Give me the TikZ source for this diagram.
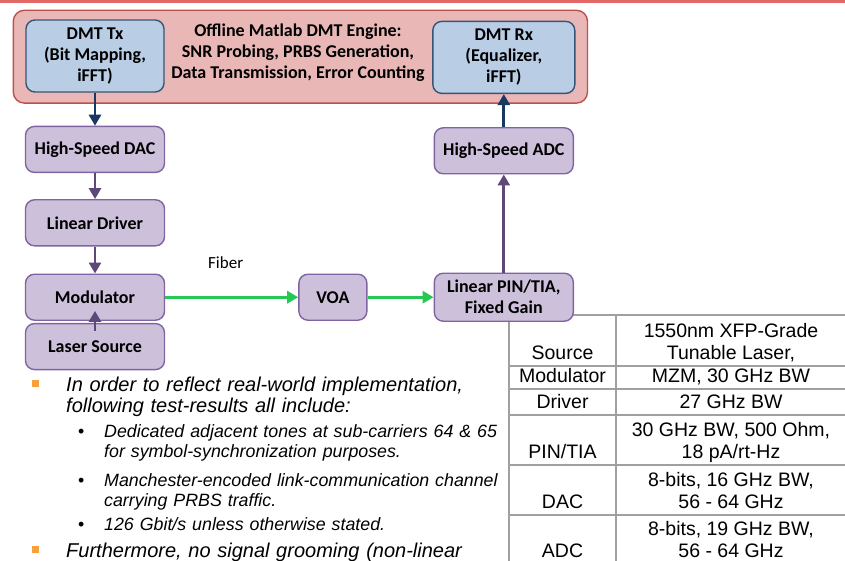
\documentclass[tikz,border=0pt]{standalone}
\usepackage{fontspec}
\setmainfont{Carlito}
\newfontfamily\arialf{Liberation Sans}
\usepackage{xcolor}
\usepackage{tikz}
\usetikzlibrary{arrows.meta,positioning,fit,backgrounds}
\definecolor{engfill}{RGB}{232,183,182}
\definecolor{engline}{RGB}{190,80,77}
\definecolor{dmtfill}{RGB}{185,205,229}
\definecolor{dmtline}{RGB}{56,84,120}
\definecolor{blkfill}{RGB}{205,192,219}
\definecolor{blkline}{RGB}{128,100,162}
\definecolor{navy}{RGB}{26,56,96}
\definecolor{plum}{RGB}{94,72,122}
\definecolor{fibre}{RGB}{36,200,82}
\definecolor{bulletor}{RGB}{247,160,60}
\definecolor{topline}{RGB}{226,104,104}
\definecolor{grid}{RGB}{160,160,160}

\begin{document}
\begin{tikzpicture}[x=1pt,y=1pt,
  font=\fontsize{18}{21}\selectfont\bfseries,
  pb/.style={draw=blkline,line width=1.4pt,rounded corners=9pt,fill=blkfill,minimum width=139pt,minimum height=46pt,align=center,inner sep=2pt},
  bb/.style={draw=dmtline,line width=1.4pt,rounded corners=9pt,fill=dmtfill,minimum width=138pt,minimum height=72pt,align=center,inner sep=2pt},
  na/.style={-{Triangle[width=12pt,length=11pt]},line width=2.8pt,color=navy},
  pa/.style={-{Triangle[width=12pt,length=11pt]},line width=2.8pt,color=plum},
  ga/.style={-{Triangle[width=12pt,length=11pt]},line width=3pt,color=fibre},
  cell/.style={font=\arialf\fontsize{19.5}{22}\selectfont,align=center,anchor=south,inner sep=0pt},
  txt/.style={font=\arialf\itshape\fontsize{20}{21.5}\selectfont,anchor=base west,inner sep=0pt,align=left},
  sub/.style={font=\arialf\itshape\fontsize{17.8}{20.5}\selectfont,anchor=base west,inner sep=0pt,align=left}]
  \useasboundingbox (0,0) rectangle (845,-561);
  \draw[topline,line width=2.5pt] (0,-1.5) -- (845,-1.5);

  \foreach \yy in {315,366,389,415,465,515}
    \draw[grid,line width=1.2pt] (509,-\yy) -- (845,-\yy);
  \draw[grid,line width=1.2pt] (509,-315) -- (509,-561);
  \draw[grid,line width=1.2pt] (616,-315) -- (616,-561);
  \foreach \lab/\val/\yy [count=\i] in {{Source}/{1550nm XFP-Grade\\Tunable Laser,}/366,
      {Modulator}/{MZM, 30 GHz BW}/389, {Driver}/{27 GHz BW}/415,
      {PIN/TIA}/{30 GHz BW, 500 Ohm,\\18 pA/rt-Hz}/465,
      {DAC}/{8-bits, 16 GHz BW,\\56 - 64 GHz}/515, {ADC}/{8-bits, 19 GHz BW,\\56 - 64 GHz}/564}
  {
    \node[cell] (lab\i) at (562.5,-\yy) {\lab\strut};
    \node[cell] (val\i) at (731,-\yy) {\val\strut};
  }

  \node[bb] (tx) at (95,-56) {DMT Tx\\(Bit Mapping,\\iFFT)};
  \node[pb,below=33pt of tx] (dac) {High-Speed DAC};
  \node[pb,below=26pt of dac] (drv) {Linear Driver};
  \node[pb,below=27pt of drv] (mod) {Modulator};
  \node[pb,below=2pt of mod] (las) {Laser Source};
  \node[pb,minimum width=68pt,right=133pt of mod] (voa) {VOA};
  \node[pb,minimum height=48pt,right=66pt of voa] (pin) {Linear PIN/TIA,\\Fixed Gain};
  \node[pb,above=98pt of pin] (adc) {High-Speed ADC};
  \node[bb,minimum width=142pt,above=33pt of adc] (rx) {DMT Rx\\(Equalizer,\\iFFT)};
  \node[align=center] (eng) at (298,-53) {Offline Matlab DMT Engine:\\SNR Probing, PRBS Generation,\\Data Transmission, Error Counting};
  \begin{scope}[on background layer]
    \node[fit=(tx)(rx),inner xsep=12pt,inner ysep=9pt,draw=engline,fill=engfill,line width=1.4pt,rounded corners=11pt] (engbox) {};
  \end{scope}

  \draw[na] (tx) -- (dac);
  \draw[pa] (dac) -- (drv);
  \draw[pa] (drv) -- (mod);
  \draw[pa] ([yshift=-8pt]las.north) -- ([yshift=10pt]mod.south);
  \draw[ga] (mod) -- node[above=24pt,xshift=-6pt,text=black,font=\fontsize{17}{20}\selectfont] (fib) {Fiber} (voa);
  \draw[ga] (voa) -- (pin);
  \draw[pa] (pin) -- (adc);
  \draw[na] (adc) -- (rx);

  \node[fill=bulletor,minimum size=7pt,inner sep=0pt] (sq1) at (35,-383) {};
  \node[txt,text width=470pt] (t1) at (66,-391) {In order to reflect real-world implementation,\\following test-results all include:};
  \foreach \yy [count=\i] in {437,486,530}
    \node[sub] (dot\i) at (78,-\yy) {\upshape\textbullet};
  \node[sub,text width=420pt] (s1) at (104,-437) {Dedicated adjacent tones at sub-carriers 64 \& 65\\for symbol-synchronization purposes.};
  \node[sub,text width=420pt] (s2) at (104,-486) {Manchester-encoded link-communication channel\\carrying PRBS traffic.};
  \node[sub,text width=420pt] (s3) at (104,-530) {126 Gbit/s unless otherwise stated.};
  \node[fill=bulletor,minimum size=7pt,inner sep=0pt] (sq2) at (35,-549) {};
  \node[txt,text width=470pt] (t2) at (66,-557) {Furthermore, no signal grooming (non-linear};
\end{tikzpicture}
\end{document}
